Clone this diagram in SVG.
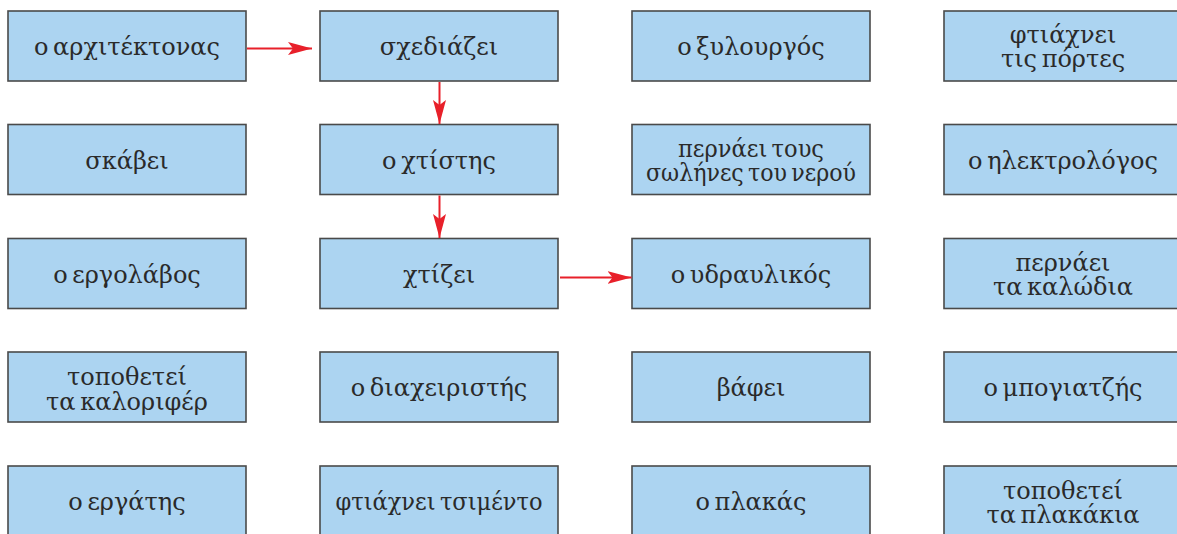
<svg xmlns="http://www.w3.org/2000/svg" width="1177" height="534" viewBox="0 0 1177 534">
<style>
.box{fill:#acd4f1;stroke:#4a4a4a;stroke-width:1.6}
.t{font-family:"DejaVu Serif","Liberation Serif",serif;font-size:24px;word-spacing:-3px;fill:#2a2a2a;text-anchor:middle}
.c{stroke:#e8202a;stroke-width:2;fill:none}
</style>
<defs>
<marker id="ah" markerUnits="userSpaceOnUse" markerWidth="26" markerHeight="14" refX="24" refY="6.5" orient="auto">
<path d="M0,0 L24,6.5 L0,13 L5,6.5 z" fill="#e8202a"/>
</marker>
</defs>
<rect width="1177" height="534" fill="#fff"/>
<g id="n11"><rect class="box" x="8" y="11" width="238" height="70"/><text class="t" x="127" y="55">ο αρχιτέκτονας</text></g>
<g id="n12"><rect class="box" x="320" y="11" width="238" height="70"/><text class="t" x="439" y="55">σχεδιάζει</text></g>
<g id="n13"><rect class="box" x="632" y="11" width="238" height="70"/><text class="t" x="751" y="55">ο ξυλουργός</text></g>
<g id="n14"><rect class="box" x="944" y="11" width="238" height="70"/><text class="t" x="1063" y="43">φτιάχνει</text><text class="t" x="1063" y="67">τις πόρτες</text></g>

<g id="n21"><rect class="box" x="8" y="124.5" width="238" height="70"/><text class="t" x="127" y="168.5">σκάβει</text></g>
<g id="n22"><rect class="box" x="320" y="124.5" width="238" height="70"/><text class="t" x="439" y="168.5">ο χτίστης</text></g>
<g id="n23"><rect class="box" x="632" y="124.5" width="238" height="70"/><text class="t" x="751" y="156.5" textLength="146" lengthAdjust="spacingAndGlyphs">περνάει τους</text><text class="t" x="751" y="180.5" textLength="210" lengthAdjust="spacingAndGlyphs">σωλήνες του νερού</text></g>
<g id="n24"><rect class="box" x="944" y="124.5" width="238" height="70"/><text class="t" x="1063" y="168.5">ο ηλεκτρολόγος</text></g>

<g id="n31"><rect class="box" x="8" y="238.5" width="238" height="70"/><text class="t" x="127" y="282.5">ο εργολάβος</text></g>
<g id="n32"><rect class="box" x="320" y="238.5" width="238" height="70"/><text class="t" x="439" y="282.5">χτίζει</text></g>
<g id="n33"><rect class="box" x="632" y="238.5" width="238" height="70"/><text class="t" x="751" y="282.5">ο υδραυλικός</text></g>
<g id="n34"><rect class="box" x="944" y="238.5" width="238" height="70"/><text class="t" x="1063" y="270.5">περνάει</text><text class="t" x="1063" y="295">τα καλώδια</text></g>

<g id="n41"><rect class="box" x="8" y="352" width="238" height="70"/><text class="t" x="127" y="385">τοποθετεί</text><text class="t" x="127" y="409.5">τα καλοριφέρ</text></g>
<g id="n42"><rect class="box" x="320" y="352" width="238" height="70"/><text class="t" x="439" y="396">ο διαχειριστής</text></g>
<g id="n43"><rect class="box" x="632" y="352" width="238" height="70"/><text class="t" x="751" y="396">βάφει</text></g>
<g id="n44"><rect class="box" x="944" y="352" width="238" height="70"/><text class="t" x="1063" y="396">ο μπογιατζής</text></g>

<g id="n51"><rect class="box" x="8" y="466" width="238" height="70"/><text class="t" x="127" y="510">ο εργάτης</text></g>
<g id="n52"><rect class="box" x="320" y="466" width="238" height="70"/><text class="t" x="439" y="510" textLength="207" lengthAdjust="spacingAndGlyphs">φτιάχνει τσιμέντο</text></g>
<g id="n53"><rect class="box" x="632" y="466" width="238" height="70"/><text class="t" x="751" y="510">ο πλακάς</text></g>
<g id="n54"><rect class="box" x="944" y="466" width="238" height="70"/><text class="t" x="1063" y="498.5">τοποθετεί</text><text class="t" x="1063" y="523">τα πλακάκια</text></g>

<g id="connectors">
<line class="c" x1="247" y1="48.5" x2="312" y2="48.5" marker-end="url(#ah)"/>
<line class="c" x1="439.5" y1="82" x2="439.5" y2="124" marker-end="url(#ah)"/>
<line class="c" x1="439.5" y1="195.5" x2="439.5" y2="238" marker-end="url(#ah)"/>
<line class="c" x1="560" y1="277.5" x2="631.5" y2="277.5" marker-end="url(#ah)"/>
</g>
</svg>
